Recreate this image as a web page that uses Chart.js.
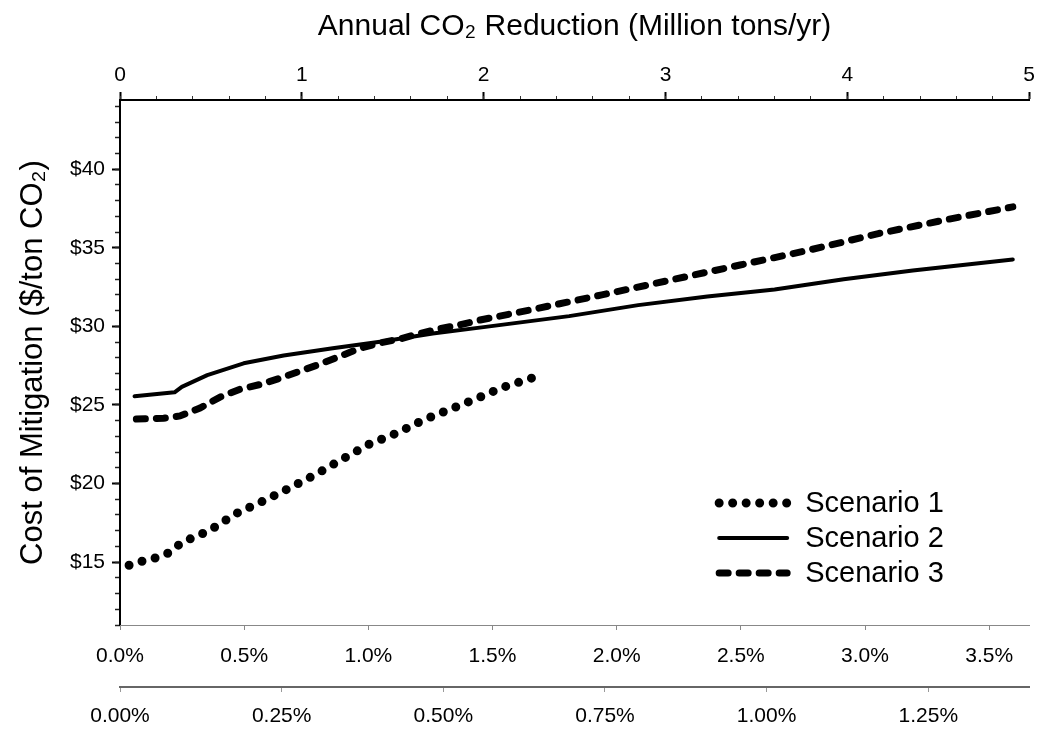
<!DOCTYPE html>
<html>
<head>
<meta charset="utf-8">
<script src="https://cdn.jsdelivr.net/npm/chart.js@4.4.1/dist/chart.umd.min.js"></script>
<style>
  html, body { margin: 0; padding: 0; background: #fff; }
  canvas { display: block; }
</style>
</head>
<body>
<canvas id="costChart" width="1039" height="732"></canvas>
<script>
// x values are annual CO2 reduction in million tons/yr (top axis)
var scenario1Mt = [0.05, 0.12, 0.19, 0.27, 0.34, 0.49, 0.64, 0.79, 0.93, 1.08, 1.23, 1.37, 1.52, 1.67, 1.81, 1.96, 2.10, 2.25, 2.32];
var scenario1Cost = [14.8, 15.05, 15.25, 15.6, 16.25, 17.0, 18.1, 18.9, 19.7, 20.6, 21.6, 22.5, 23.2, 24.05, 24.7, 25.4, 26.1, 26.65, 26.95];

var scenario2Mt = [0.08, 0.30, 0.34, 0.48, 0.68, 0.90, 1.17, 1.45, 1.72, 2.00, 2.47, 2.85, 3.23, 3.60, 3.98, 4.36, 4.91];
var scenario2Cost = [25.55, 25.8, 26.15, 26.9, 27.65, 28.15, 28.6, 29.05, 29.55, 29.95, 30.65, 31.35, 31.9, 32.35, 33.0, 33.55, 34.25];

var scenario3Mt = [0.09, 0.24, 0.33, 0.44, 0.55, 0.66, 0.77, 0.88, 0.99, 1.10, 1.21, 1.32, 1.43, 1.54, 1.65, 1.76, 1.87, 1.98, 2.28, 2.65, 3.03, 3.41, 3.79, 4.17, 4.55, 4.91];
var scenario3Cost = [24.1, 24.15, 24.3, 24.8, 25.5, 26.0, 26.3, 26.7, 27.15, 27.6, 28.1, 28.6, 28.95, 29.2, 29.55, 29.85, 30.1, 30.4, 31.1, 32.0, 32.95, 33.9, 34.85, 35.9, 36.8, 37.6];

var seriesNames = ["Scenario 1", "Scenario 2", "Scenario 3"];

// tick labels
var mtTicks = [0, 1, 2, 3, 4, 5];
var costTicks = [15, 20, 25, 30, 35, 40];
var pctTicksA = [0, 0.5, 1.0, 1.5, 2.0, 2.5, 3.0, 3.5];
var pctTicksB = [0, 0.25, 0.5, 0.75, 1.0, 1.25];

// minor tick marks
var mtMinor = [];
for (var i = 0; i <= 25; i++) mtMinor.push(i * 0.2);
var costMinor = [];
for (var c = 11; c <= 44; c++) costMinor.push(c);

function toPoints(xs, ys) {
  return xs.map(function (x, i) { return { x: x, y: ys[i] }; });
}
function fixedTicks(values) {
  return function (scale) {
    scale.ticks = values.map(function (v) { return { value: v }; });
  };
}

var FONT = '"Liberation Sans", Arial, sans-serif';
var tickFont = { family: FONT, size: 21 };

// legend drawn inside the plot, lower right
var cornerLegend = {
  id: "cornerLegend",
  afterDraw: function (chart) {
    var ctx = chart.ctx;
    var area = chart.chartArea;
    chart.data.datasets.forEach(function (ds, i) {
      var y = area.bottom - 122 + i * 35;
      var x0 = area.right - 310;
      ctx.save();
      ctx.strokeStyle = ds.borderColor;
      ctx.lineWidth = ds.borderWidth;
      ctx.lineCap = ds.borderCapStyle || "butt";
      ctx.setLineDash(ds.borderDash || []);
      ctx.beginPath();
      ctx.moveTo(x0, y);
      ctx.lineTo(x0 + 68, y);
      ctx.stroke();
      ctx.setLineDash([]);
      ctx.fillStyle = "#000";
      ctx.font = "29px " + FONT;
      ctx.textBaseline = "middle";
      ctx.fillText(ds.label, area.right - 224, y + 1);
      ctx.restore();
    });
  }
};

var ctx = document.getElementById("costChart").getContext("2d");
var costChart = new Chart(ctx, {
  type: "line",
  data: {
    datasets: [
      {
        label: seriesNames[0],
        data: toPoints(scenario1Mt, scenario1Cost),
        borderColor: "#000",
        borderWidth: 9,
        borderDash: [0, 13.5],
        borderCapStyle: "round",
        pointRadius: 0,
        xAxisID: "x",
        yAxisID: "y"
      },
      {
        label: seriesNames[1],
        data: toPoints(scenario2Mt, scenario2Cost),
        borderColor: "#000",
        borderWidth: 4,
        borderCapStyle: "round",
        borderJoinStyle: "round",
        pointRadius: 0,
        xAxisID: "x",
        yAxisID: "y"
      },
      {
        label: seriesNames[2],
        data: toPoints(scenario3Mt, scenario3Cost),
        borderColor: "#000",
        borderWidth: 7,
        borderDash: [9, 11],
        borderCapStyle: "round",
        pointRadius: 0,
        xAxisID: "x",
        yAxisID: "y"
      }
    ]
  },
  options: {
    responsive: false,
    animation: false,
    layout: { padding: { left: 0, right: 3, top: 0, bottom: 0 } },
    plugins: {
      legend: { display: false },
      tooltip: { enabled: false }
    },
    scales: {
      x: {
        type: "linear",
        position: "top",
        weight: 0,
        min: 0,
        max: 5,
        afterBuildTicks: fixedTicks(mtTicks),
        afterFit: function (s) { s.height = 100; },
        ticks: { font: tickFont, color: "#000", padding: 4, autoSkip: false, maxRotation: 0 },
        grid: { drawOnChartArea: false, tickLength: 8, tickWidth: 2, tickColor: "#000" },
        border: { color: "#000", width: 2 },
        title: {
          display: true,
          text: "Annual CO\u2082 Reduction (Million tons/yr)",
          font: { family: FONT, size: 30 },
          color: "#000",
          padding: { top: 9, bottom: 0 }
        }
      },
      xMinor: {
        type: "linear",
        position: "top",
        weight: -1,
        min: 0,
        max: 5,
        afterBuildTicks: fixedTicks(mtMinor),
        afterFit: function (s) { s.height = 0; },
        ticks: { display: false },
        grid: { drawOnChartArea: false, tickLength: 4, tickWidth: 1, tickColor: "#333" },
        border: { display: false }
      },
      y: {
        type: "linear",
        position: "left",
        weight: 0,
        min: 11,
        max: 44.4,
        afterBuildTicks: fixedTicks(costTicks),
        afterFit: function (s) { s.width = 120; },
        ticks: {
          font: tickFont,
          color: "#000",
          padding: 7,
          autoSkip: false,
          callback: function (v) { return "$" + v; }
        },
        grid: { drawOnChartArea: false, tickLength: 8, tickWidth: 2, tickColor: "#000" },
        border: { color: "#000", width: 2 },
        title: {
          display: true,
          text: "Cost of Mitigation ($/ton CO\u2082)",
          font: { family: FONT, size: 31 },
          color: "#000",
          padding: { top: 15, bottom: 0 }
        }
      },
      yMinor: {
        type: "linear",
        position: "left",
        weight: -1,
        min: 11,
        max: 44.4,
        afterBuildTicks: fixedTicks(costMinor),
        afterFit: function (s) { s.width = 0; },
        ticks: { display: false },
        grid: { drawOnChartArea: false, tickLength: 5, tickWidth: 1.5, tickColor: "#222" },
        border: { display: false }
      },
      pctA: {
        type: "linear",
        position: "bottom",
        weight: 1,
        min: 0,
        max: 3.661,
        afterBuildTicks: fixedTicks(pctTicksA),
        afterFit: function (s) { s.height = 62; },
        ticks: {
          font: tickFont,
          color: "#000",
          padding: 14,
          autoSkip: false,
          maxRotation: 0,
          callback: function (v) { return v.toFixed(1) + "%"; }
        },
        grid: { drawOnChartArea: false, tickLength: 5, tickWidth: 1, tickColor: "#888" },
        border: { color: "#888", width: 1, dash: [2, 2] }
      },
      pctB: {
        type: "linear",
        position: "bottom",
        weight: 2,
        min: 0,
        max: 1.406,
        afterBuildTicks: fixedTicks(pctTicksB),
        afterFit: function (s) { s.height = 45; },
        ticks: {
          font: tickFont,
          color: "#000",
          padding: 12,
          autoSkip: false,
          maxRotation: 0,
          callback: function (v) { return v.toFixed(2) + "%"; }
        },
        grid: { drawOnChartArea: false, tickLength: 5, tickWidth: 1, tickColor: "#999" },
        border: { color: "#666", width: 2 }
      }
    }
  },
  plugins: [cornerLegend]
});
</script>
</body>
</html>
